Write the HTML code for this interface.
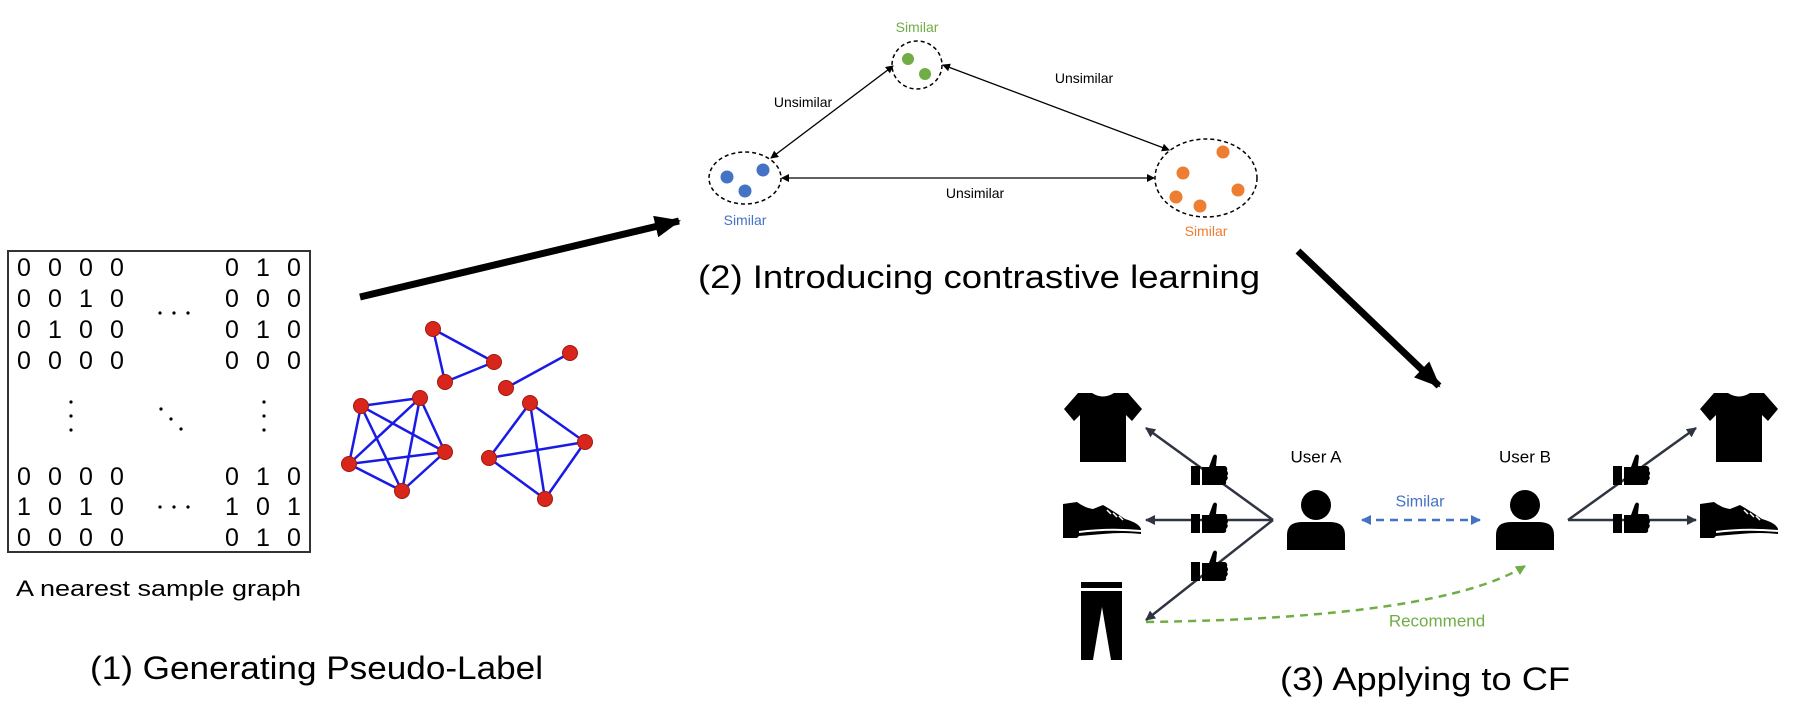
<!DOCTYPE html>
<html><head><meta charset="utf-8"><style>
html,body{margin:0;padding:0;background:#fff;}
svg{display:block;font-family:"Liberation Sans",sans-serif;}
</style></head><body>
<svg width="1796" height="718" viewBox="0 0 1796 718" xmlns="http://www.w3.org/2000/svg">
<defs>
<marker id="ah" markerWidth="8" markerHeight="8" refX="7" refY="4" orient="auto-start-reverse" markerUnits="userSpaceOnUse"><path d="M0,0 L8,4 L0,8 z" fill="#000"/></marker>
<marker id="ad" markerWidth="10" markerHeight="10" refX="9" refY="5" orient="auto-start-reverse" markerUnits="userSpaceOnUse"><path d="M0,0 L10,5 L0,10 z" fill="#2e3440"/></marker>
<marker id="ab" markerWidth="10" markerHeight="10" refX="9" refY="5" orient="auto-start-reverse" markerUnits="userSpaceOnUse"><path d="M0,0 L10,5 L0,10 z" fill="#4472c4"/></marker>
<marker id="ag" markerWidth="10" markerHeight="10" refX="9" refY="5" orient="auto" markerUnits="userSpaceOnUse"><path d="M0,0 L10,5 L0,10 z" fill="#70ad47"/></marker>
<marker id="big" markerWidth="26" markerHeight="22" refX="24" refY="11" orient="auto" markerUnits="userSpaceOnUse"><path d="M0,0 L26,11 L0,22 z" fill="#000"/></marker>
<g id="thumb"><rect x="0" y="12" width="9" height="19" fill="#000"/><path d="M11,13 L18,13 L22,2 Q24,-1 26,2 L25,12 L34,12 Q37,13 36,17 Q38,19 36,22 Q38,24 35,27 Q36,31 32,31 L11,31 z" fill="#000"/></g>
<g id="shirt"><path d="M14,0 L28,0 Q39,7 50,0 L64,0 L78,16 L68,28 L62,22 L62,69 L16,69 L16,22 L10,28 L0,16 z" fill="#000"/></g>
<g id="shoe"><path d="M0,2 L14,0 Q22,6 30,7 L40,3 Q52,10 62,17 Q76,21 78,27 L78,32 Q60,30 40,32 L16,34 L14,36 L0,36 z" fill="#000"/><path d="M16,30 Q46,26 78,29" stroke="#fff" stroke-width="2" fill="none"/><path d="M44,8 l4,4 M50,11 l4,4 M56,14 l4,4" stroke="#fff" stroke-width="1.5"/></g>
<g id="pants"><rect x="0" y="0" width="41" height="6" fill="#000"/><path d="M0,9 L41,9 L41,78 L30,78 L21,25 L12,78 L0,78 z" fill="#000"/></g>
<g id="person"><circle cx="0" cy="0" r="15" fill="#000"/><path d="M-29,45 L-29,30 Q-29,17 -14,17 L14,17 Q29,17 29,30 L29,45 z" fill="#000"/></g>
</defs>

<!-- Part 1 -->
<rect x="8" y="251" width="302" height="301" fill="none" stroke="#333" stroke-width="2"/>
<g font-size="25" fill="#000" text-anchor="middle" dominant-baseline="central">
<text x="24" y="268">0</text><text x="55" y="268">0</text><text x="86" y="268">0</text><text x="117" y="268">0</text><text x="232" y="268">0</text><text x="263" y="268">1</text><text x="294" y="268">0</text>
<text x="24" y="299">0</text><text x="55" y="299">0</text><text x="86" y="299">1</text><text x="117" y="299">0</text><text x="232" y="299">0</text><text x="263" y="299">0</text><text x="294" y="299">0</text>
<text x="24" y="330">0</text><text x="55" y="330">1</text><text x="86" y="330">0</text><text x="117" y="330">0</text><text x="232" y="330">0</text><text x="263" y="330">1</text><text x="294" y="330">0</text>
<text x="24" y="361">0</text><text x="55" y="361">0</text><text x="86" y="361">0</text><text x="117" y="361">0</text><text x="232" y="361">0</text><text x="263" y="361">0</text><text x="294" y="361">0</text>
<text x="24" y="477">0</text><text x="55" y="477">0</text><text x="86" y="477">0</text><text x="117" y="477">0</text><text x="232" y="477">0</text><text x="263" y="477">1</text><text x="294" y="477">0</text>
<text x="24" y="507">1</text><text x="55" y="507">0</text><text x="86" y="507">1</text><text x="117" y="507">0</text><text x="232" y="507">1</text><text x="263" y="507">0</text><text x="294" y="507">1</text>
<text x="24" y="538">0</text><text x="55" y="538">0</text><text x="86" y="538">0</text><text x="117" y="538">0</text><text x="232" y="538">0</text><text x="263" y="538">1</text><text x="294" y="538">0</text>
</g>
<g fill="#000">
<circle cx="160" cy="313" r="1.6"/><circle cx="174" cy="313" r="1.6"/><circle cx="188" cy="313" r="1.6"/>
<circle cx="160" cy="507" r="1.6"/><circle cx="174" cy="507" r="1.6"/><circle cx="188" cy="507" r="1.6"/>
<circle cx="71" cy="402" r="1.6"/><circle cx="71" cy="416" r="1.6"/><circle cx="71" cy="430" r="1.6"/>
<circle cx="264" cy="402" r="1.6"/><circle cx="264" cy="416" r="1.6"/><circle cx="264" cy="430" r="1.6"/>
<circle cx="161" cy="409" r="1.6"/><circle cx="171" cy="419" r="1.6"/><circle cx="181" cy="429" r="1.6"/>
</g>
<text x="16" y="596" font-size="22" textLength="285" lengthAdjust="spacingAndGlyphs">A nearest sample graph</text>
<text x="90" y="679" font-size="32" textLength="453" lengthAdjust="spacingAndGlyphs">(1) Generating Pseudo-Label</text>

<g stroke="#1a1ae6" stroke-width="2.5">
<line x1="433" y1="329" x2="494" y2="362"/><line x1="494" y1="362" x2="445" y2="382"/><line x1="445" y1="382" x2="433" y2="329"/>
<line x1="570" y1="353" x2="506" y2="388"/>
<line x1="361" y1="406" x2="420" y2="398"/><line x1="361" y1="406" x2="445" y2="452"/><line x1="361" y1="406" x2="402" y2="491"/><line x1="361" y1="406" x2="349" y2="464"/>
<line x1="420" y1="398" x2="445" y2="452"/><line x1="420" y1="398" x2="402" y2="491"/><line x1="420" y1="398" x2="349" y2="464"/>
<line x1="445" y1="452" x2="402" y2="491"/><line x1="445" y1="452" x2="349" y2="464"/><line x1="402" y1="491" x2="349" y2="464"/>
<line x1="530" y1="403" x2="585" y2="442"/><line x1="530" y1="403" x2="545" y2="499"/><line x1="530" y1="403" x2="489" y2="458"/>
<line x1="585" y1="442" x2="545" y2="499"/><line x1="585" y1="442" x2="489" y2="458"/><line x1="545" y1="499" x2="489" y2="458"/>
</g>
<g fill="#d9261c" stroke="#a01810" stroke-width="1">
<circle cx="433" cy="329" r="7.5"/><circle cx="494" cy="362" r="7.5"/><circle cx="445" cy="382" r="7.5"/>
<circle cx="570" cy="353" r="7.5"/><circle cx="506" cy="388" r="7.5"/>
<circle cx="361" cy="406" r="7.5"/><circle cx="420" cy="398" r="7.5"/><circle cx="445" cy="452" r="7.5"/><circle cx="402" cy="491" r="7.5"/><circle cx="349" cy="464" r="7.5"/>
<circle cx="530" cy="403" r="7.5"/><circle cx="585" cy="442" r="7.5"/><circle cx="545" cy="499" r="7.5"/><circle cx="489" cy="458" r="7.5"/>
</g>

<line x1="360" y1="297" x2="679" y2="221" stroke="#000" stroke-width="7" marker-end="url(#big)"/>

<!-- Part 2 -->
<g fill="none" stroke="#000" stroke-width="1.5" stroke-dasharray="4,3">
<ellipse cx="917" cy="65" rx="25" ry="24"/>
<ellipse cx="745" cy="178" rx="36" ry="26"/>
<ellipse cx="1206" cy="178" rx="51" ry="39"/>
</g>
<g fill="#70ad47"><circle cx="908" cy="59" r="6"/><circle cx="925" cy="74" r="6"/></g>
<g fill="#4472c4"><circle cx="727" cy="177" r="6.5"/><circle cx="763" cy="170" r="6.5"/><circle cx="745" cy="191" r="6.5"/></g>
<g fill="#ed7d31"><circle cx="1223" cy="152" r="6.5"/><circle cx="1183" cy="173" r="6.5"/><circle cx="1238" cy="190" r="6.5"/><circle cx="1176" cy="197" r="6.5"/><circle cx="1200" cy="206" r="6.5"/></g>
<g stroke="#000" stroke-width="1.3" marker-start="url(#ah)" marker-end="url(#ah)">
<line x1="893" y1="66" x2="771" y2="158"/>
<line x1="943" y1="65" x2="1169" y2="150"/>
<line x1="782" y1="178" x2="1154" y2="178"/>
</g>
<g font-size="14" text-anchor="middle" dominant-baseline="central">
<text x="917" y="27" fill="#70ad47">Similar</text>
<text x="745" y="220" fill="#4472c4">Similar</text>
<text x="1206" y="231" fill="#ed7d31">Similar</text>
<text x="803" y="102" fill="#000">Unsimilar</text>
<text x="1084" y="78" fill="#000">Unsimilar</text>
<text x="975" y="193" fill="#000">Unsimilar</text>
</g>
<text x="698" y="288" font-size="32" textLength="562" lengthAdjust="spacingAndGlyphs">(2) Introducing contrastive learning</text>

<line x1="1298" y1="251" x2="1439" y2="386" stroke="#000" stroke-width="7" marker-end="url(#big)"/>

<!-- Part 3 -->
<use href="#shirt" x="1064" y="393"/>
<use href="#shoe" x="1063" y="502"/>
<use href="#pants" x="1081" y="582"/>
<use href="#shirt" x="1700" y="393"/>
<use href="#shoe" x="1700" y="502"/>
<g stroke="#2e3440" stroke-width="2.5" fill="none">
<line x1="1273" y1="520" x2="1146" y2="428" marker-end="url(#ad)"/>
<line x1="1273" y1="520" x2="1146" y2="520" marker-end="url(#ad)"/>
<line x1="1273" y1="520" x2="1146" y2="620" marker-end="url(#ad)"/>
<line x1="1568" y1="520" x2="1696" y2="428" marker-end="url(#ad)"/>
<line x1="1568" y1="520" x2="1696" y2="520" marker-end="url(#ad)"/>
</g>
<use href="#thumb" x="1191" y="454"/>
<use href="#thumb" x="1191" y="502"/>
<use href="#thumb" x="1191" y="550"/>
<use href="#thumb" x="1613" y="454"/>
<use href="#thumb" x="1613" y="502"/>
<use href="#person" x="1316" y="505"/>
<use href="#person" x="1525" y="505"/>
<g font-size="17" text-anchor="middle" dominant-baseline="central" fill="#000">
<text x="1316" y="457">User A</text>
<text x="1525" y="457">User B</text>
</g>
<line x1="1362" y1="520" x2="1480" y2="520" stroke="#4472c4" stroke-width="2.5" stroke-dasharray="8,6" marker-start="url(#ab)" marker-end="url(#ab)"/>
<text x="1420" y="502" font-size="16" fill="#4472c4" text-anchor="middle" dominant-baseline="central">Similar</text>
<path d="M1146,622 Q1440,618 1525,566" stroke="#70ad47" stroke-width="2.5" stroke-dasharray="8,6" fill="none" marker-end="url(#ag)"/>
<text x="1437" y="621" font-size="17" fill="#70ad47" text-anchor="middle" dominant-baseline="central">Recommend</text>
<text x="1280" y="690" font-size="32" textLength="290" lengthAdjust="spacingAndGlyphs">(3) Applying to CF</text>
</svg>
</body></html>
